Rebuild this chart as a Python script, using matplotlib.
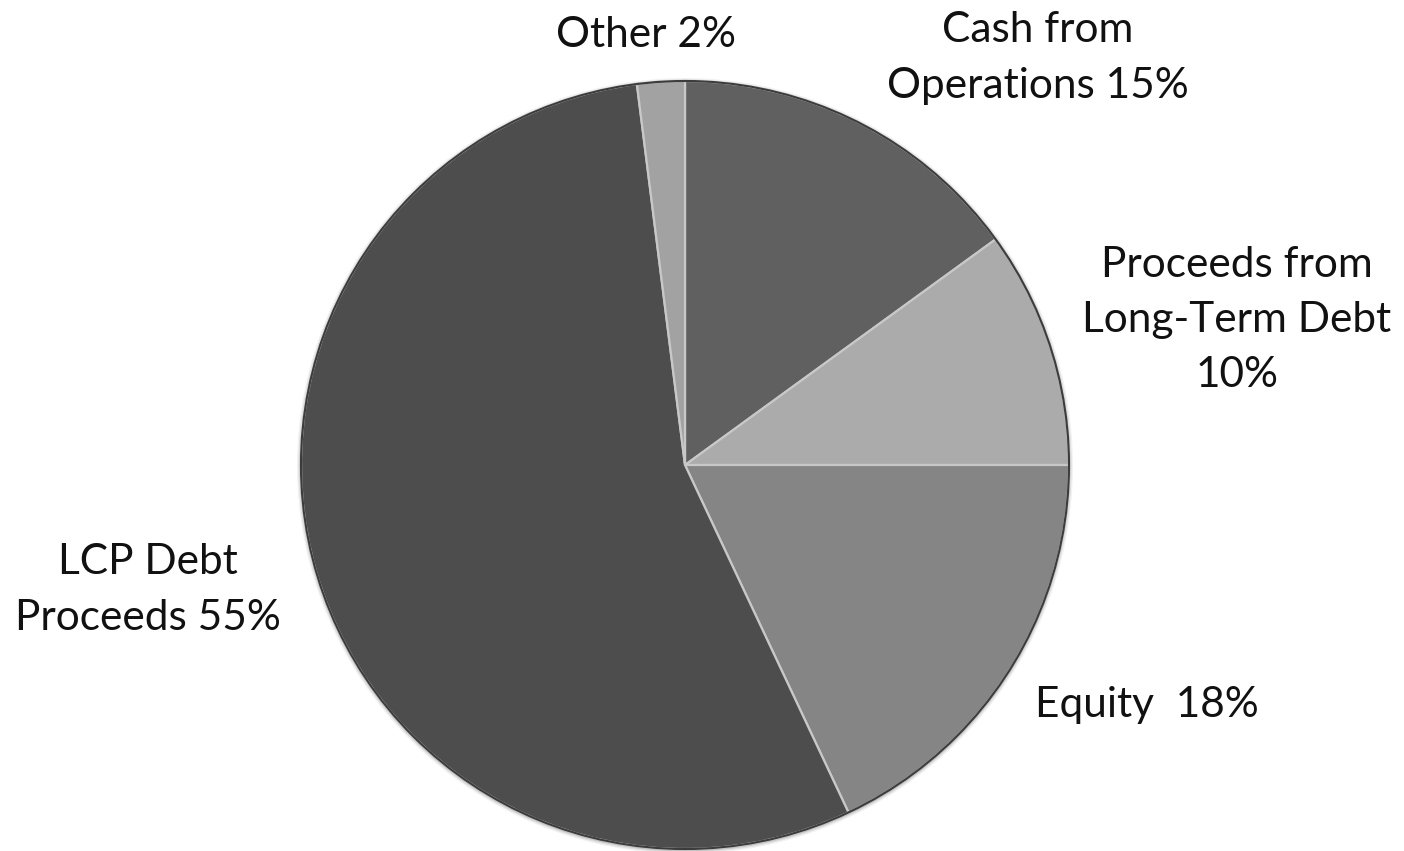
import matplotlib
matplotlib.use("Agg")
import matplotlib.pyplot as plt
from matplotlib.patches import Circle

# funding sources, clockwise from 12 o'clock
names = ["Cash from\nOperations", "Proceeds from\nLong-Term Debt\n", "Equity ", "LCP Debt\nProceeds", "Other"]
shares = [15, 10, 18, 55, 2]
colors = ["#606060", "#ababab", "#858585", "#4d4d4d", "#a2a2a2"]

# label anchor points (pixels, origin top-left)
label_pos = [(1038, 58), (1237, 320), (1147, 705), (148, 590), (646, 35)]

W, H = 1404, 851
fig = plt.figure(figsize=(W / 100, H / 100), dpi=100)
ax = fig.add_axes([0, 0, 1, 1])

cx, cy, r = 685, H - 465, 384

# soft shadow around the rim
for i, a in enumerate([0.05, 0.08, 0.12]):
    ax.add_patch(Circle((cx, cy - 1), r + 4 - i * 1.3, color="black", alpha=a, lw=0))

wedges, _ = ax.pie(shares, colors=colors, startangle=90, counterclock=False,
                   center=(cx, cy), radius=r, frame=True,
                   wedgeprops=dict(edgecolor="#c8c8c8", linewidth=1.6))
ax.set_xlim(0, W)
ax.set_ylim(0, H)
ax.set_aspect("equal")
ax.axis("off")

ax.add_patch(Circle((cx, cy), r, fill=False, edgecolor="#3c3c3c", lw=1.5))

for name, val, (x, y) in zip(names, shares, label_pos):
    sep = "" if name.endswith("\n") else " "
    ax.text(x, H - y, f"{name}{sep}{val}%", ha="center", va="center",
            fontsize=30.5, family="Lato", linespacing=1.56, color="#111111")

fig.savefig("out.png", dpi=100, facecolor="white")
